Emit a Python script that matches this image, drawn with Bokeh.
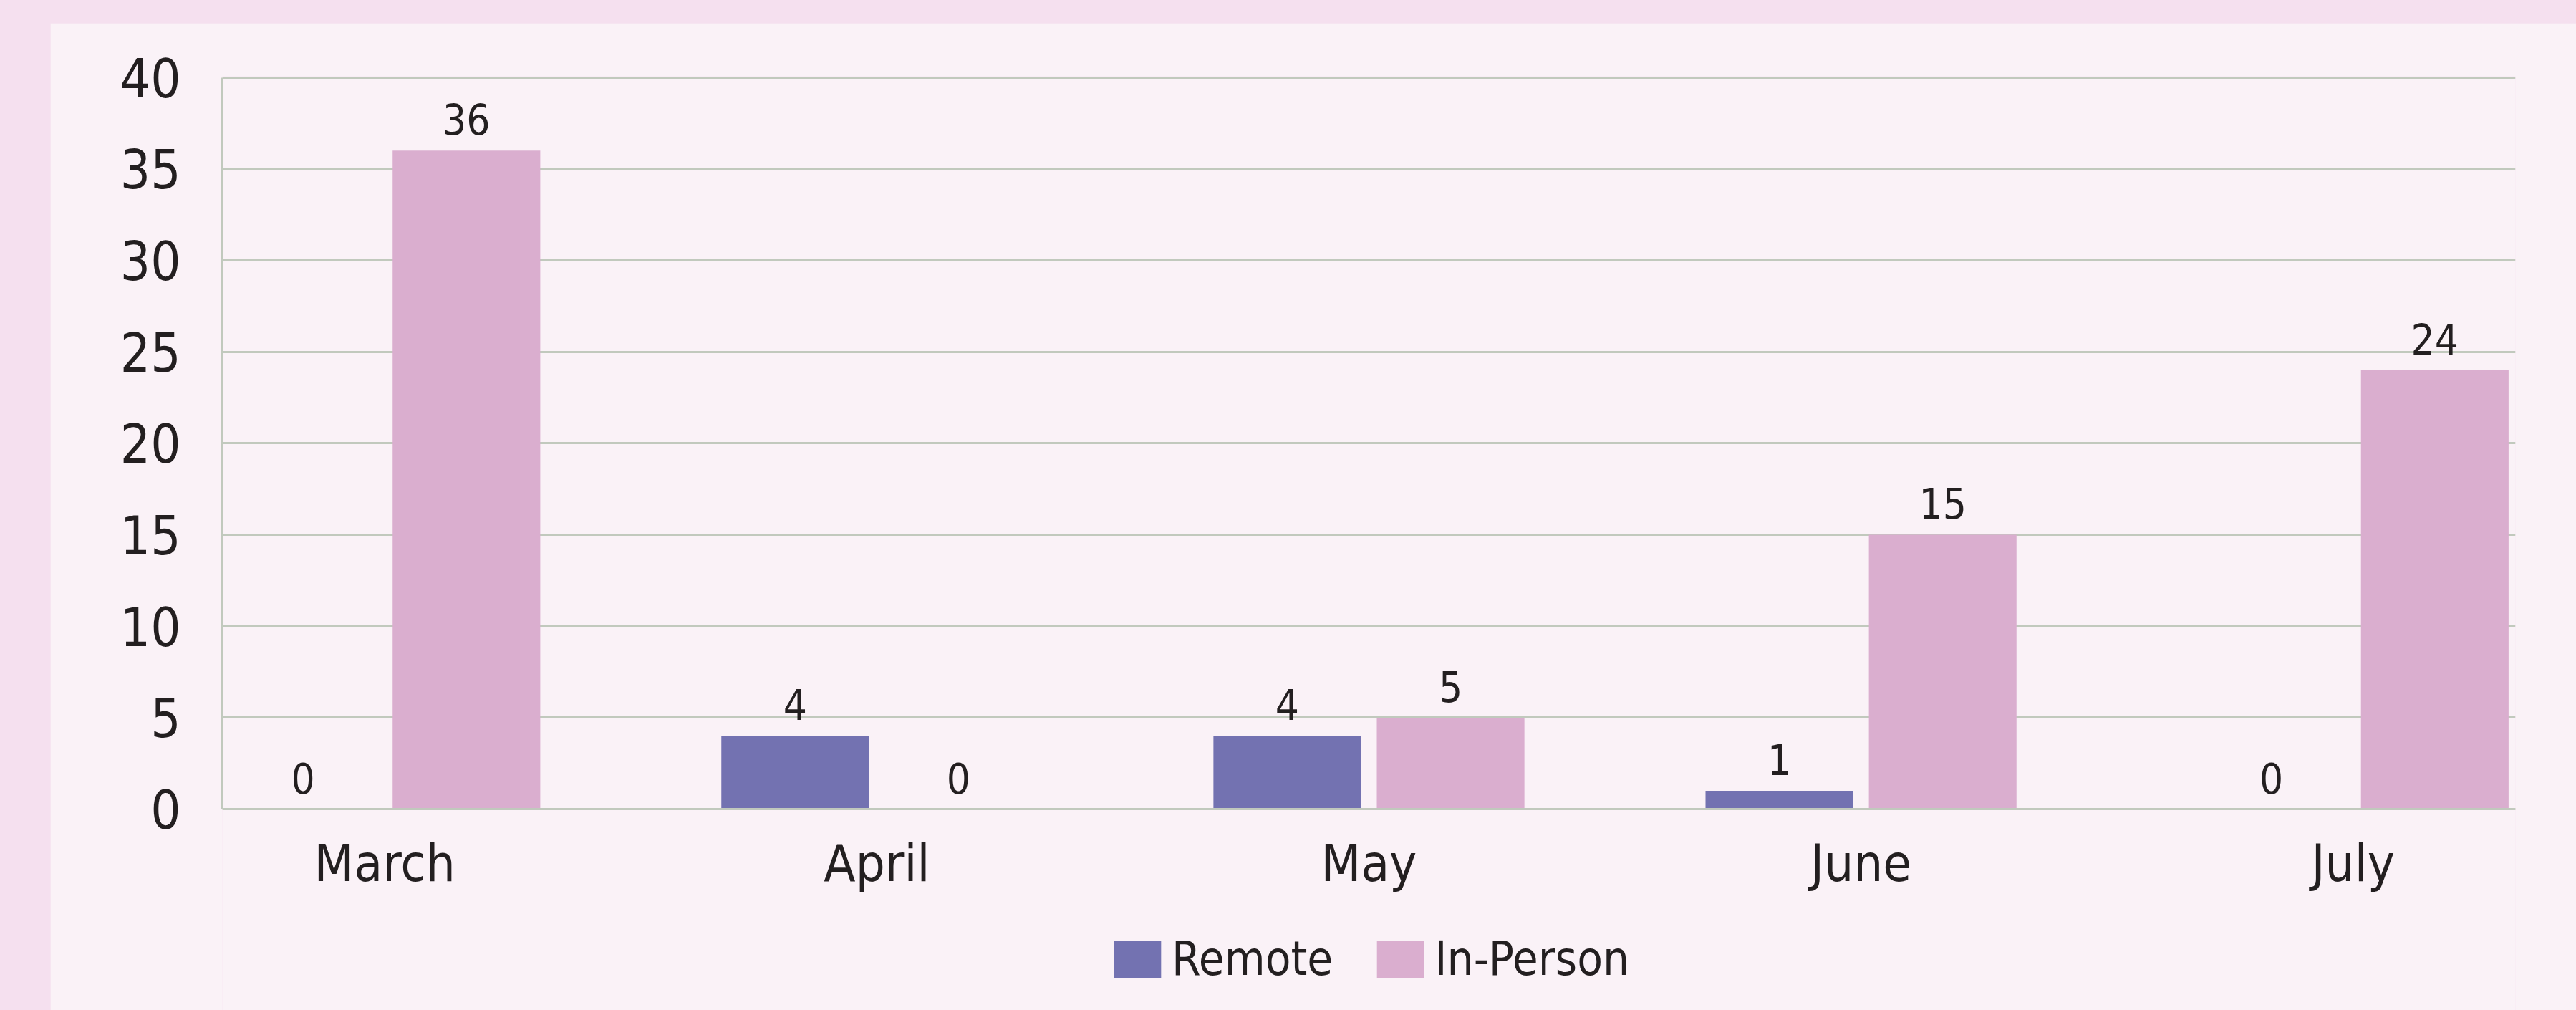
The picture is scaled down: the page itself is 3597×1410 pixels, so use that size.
from bokeh.plotting import figure
from bokeh.models import (ColumnDataSource, Range1d, FixedTicker, Legend,
                          LegendItem, LabelSet)
from bokeh.core.properties import value
from bokeh.embed import file_html
from bokeh.resources import INLINE

# ---- data ----
months = ["March", "April", "May", "June", "July"]
remote = [0, 4, 4, 1, 0]
in_person = [36, 0, 5, 15, 24]
y_ticks = [0, 5, 10, 15, 20, 25, 30, 35, 40]
series_names = ["Remote", "In-Person"]

# ---- style ----
FONT = "DejaVu Sans Condensed"
TEXT = "#231F20"
GRID = "#C1C9BD"
OUTER = "#F5E0EF"
INNER = "#FAF2F7"
C_REMOTE = "#7372B1"
C_INPERSON = "#DAAECF"
OFF = 0.166
BW = 0.30

idx = list(range(len(months)))
src_r = ColumnDataSource(dict(x=[i - OFF for i in idx], y=remote,
                              label=[str(v) for v in remote]))
src_p = ColumnDataSource(dict(x=[i + OFF for i in idx], y=in_person,
                              label=[str(v) for v in in_person]))

# frame reaches the bottom of the figure; the value axis starts at 0
p = figure(width=3527, height=1378,
           x_range=Range1d(-0.33, 4.33), y_range=Range1d(-11.0, 40.06),
           output_backend="svg", toolbar_location=None,
           min_border_left=240, min_border_right=85,
           min_border_top=74, min_border_bottom=0,
           background_fill_color=INNER, border_fill_color=INNER,
           outline_line_color=None, margin=(32, 0, 0, 70))

r1 = p.vbar(x="x", top="y", width=BW, source=src_r, fill_color=C_REMOTE,
            line_color=None)
r2 = p.vbar(x="x", top="y", width=BW, source=src_p, fill_color=C_INPERSON,
            line_color=None)

for src in (src_r, src_p):
    p.add_layout(LabelSet(x="x", y="y", text="label", source=src,
                          text_align="center", text_baseline="alphabetic",
                          y_offset=22, text_font=value(FONT),
                          text_font_size=value("58px"),
                          text_color=value(TEXT)))

# axes
p.xaxis.fixed_location = 0
p.xaxis.ticker = FixedTicker(ticks=idx)
p.xaxis.major_label_overrides = {i: m for i, m in zip(idx, months)}
p.xaxis.major_tick_line_color = None
p.xaxis.minor_tick_line_color = None
p.xaxis.axis_line_color = GRID
p.xaxis.axis_line_width = 3
p.xaxis.major_label_text_font = FONT
p.xaxis.major_label_text_font_size = "72px"
p.xaxis.major_label_text_color = TEXT
p.xaxis.major_label_standoff = 27

p.yaxis.ticker = FixedTicker(ticks=y_ticks)
p.yaxis.bounds = (0, 40)
p.yaxis.major_tick_line_color = None
p.yaxis.minor_tick_line_color = None
p.yaxis.axis_line_color = GRID
p.yaxis.axis_line_width = 3
p.yaxis.major_label_text_font = FONT
p.yaxis.major_label_text_font_size = "74px"
p.yaxis.major_label_text_color = TEXT
p.yaxis.major_label_standoff = 52

p.xgrid.grid_line_color = None
p.ygrid.ticker = FixedTicker(ticks=y_ticks)
p.ygrid.grid_line_color = GRID
p.ygrid.grid_line_width = 3

legend = Legend(items=[LegendItem(label=series_names[0], renderers=[r1]),
                       LegendItem(label=series_names[1], renderers=[r2])],
                orientation="horizontal", location=(1237, 34),
                glyph_width=82, glyph_height=66, label_standoff=7,
                spacing=53, padding=0, margin=0,
                label_text_font=FONT, label_text_font_size="65px",
                label_text_color=TEXT, background_fill_alpha=0,
                border_line_color=None)
p.add_layout(legend, "center")

html = file_html(p, INLINE)
html = html.replace("</head>",
                    "<style>html,body{background:%s;}</style></head>" % OUTER, 1)
open("out.html", "w").write(html)
